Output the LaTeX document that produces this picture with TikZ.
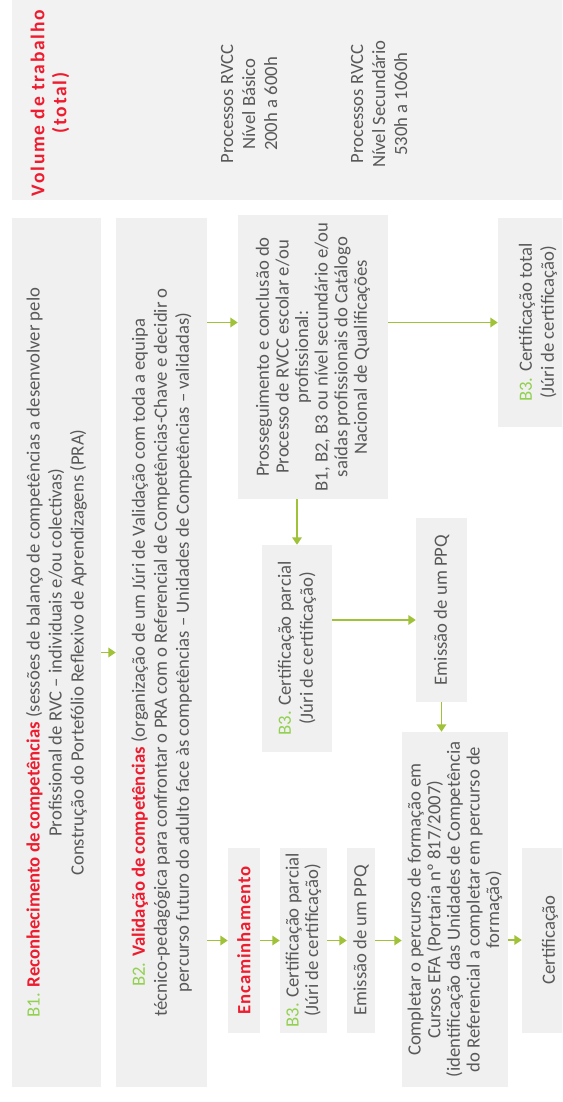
\documentclass[tikz,border=0pt]{standalone}
\usepackage{fontspec}
\setmainfont{Carlito}
\usetikzlibrary{arrows.meta}
\definecolor{boxgrey}{HTML}{F0F0F0}
\definecolor{topgrey}{HTML}{F2F2F2}
\definecolor{txt}{HTML}{595959}
\definecolor{bred}{HTML}{EE1C2E}
\definecolor{bgreen}{HTML}{92D050}
\definecolor{arrgreen}{HTML}{A0C238}
\newcommand\fs{\fontsize{18.7}{22}\selectfont}
\newcommand\fsn{\fontsize{18.7}{19.6}\selectfont}
\newcommand\Bl[1]{{\color{bgreen}#1}}
\newcommand\Rd[1]{{\color{bred}\bfseries #1}}
\tikzset{
  box/.style={fill=boxgrey, rotate=90, inner sep=0pt, align=center, text=txt, font=\fs},
  label/.style={rotate=90, inner sep=0pt, align=center, text=txt, font=\fs},
  arr/.style={draw=arrgreen, line width=1.8pt, -{Triangle[length=7.5pt,width=9.5pt]}},
}
\begin{document}
\begin{tikzpicture}[x=1pt,y=-1pt]
\useasboundingbox (0,0) rectangle (562,1102);
\clip (0,0) rectangle (562,1102);
\fill[white] (0,0) rectangle (562,1102);
% top box
\node[fill=topgrey, minimum width=566pt, minimum height=210pt, inner sep=0pt] (top) at (295,95) {};
\node[label, text=bred, font=\fontsize{19.5}{22}\selectfont\bfseries\addfontfeatures{LetterSpace=9}] (vol) at (50,103) {Volume de trabalho\\(total)};
\node[label] (bas) at (249,104) {Processos RVCC\\Nível Básico\\200h a 600h};
\node[label] (sec) at (379,104) {Processos RVCC\\Nível Secundário\\530h a 1060h};
% main boxes
\node[box, minimum width=869pt, minimum height=89pt] (b1) at (56.5,652.5)
  {\Bl{B1.} \Rd{Reconhecimento de competências} (sessões de balanço de competências a desenvolver pelo\\
   Profissional de RVC – individuais e/ou colectivas)\\
   Construção do Portefólio Reflexivo de Aprendizagens (PRA)};
\node[box, minimum width=869pt, minimum height=91pt] (b2) at (161.5,652.5)
  {\Bl{B2.} \Rd{Validação de competências} (organização de um Júri de Validação com toda a equipa\\
   técnico-pedagógica para confrontar o PRA com o Referencial de Competências-Chave e decidir o\\
   percurso futuro do adulto face às competências – Unidades de Competências – validadas)};
\node[box, font=\fsn, minimum width=284pt, minimum height=150pt] (pr) at (313,357)
  {Prosseguimento e conclusão do\\Processo de RVCC escolar e/ou\\profissional:\\
   B1, B2, B3 ou nível secundário e/ou\\saídas profissionais do Catálogo\\Nacional de Qualificações};
\node[box, minimum width=209pt, minimum height=80pt] (ct) at (538,322.5)
  {\Bl{B3.} Certificação total\\(Júri de certificação)};
\node[box, minimum width=207pt, minimum height=70pt] (cp) at (297,648.5)
  {\Bl{B3.} Certificação parcial\\(Júri de certificação)};
\node[box, minimum width=184pt, minimum height=51pt] (em) at (441.5,610)
  {Emissão de um PPQ};
\node[box, font=\fsn, minimum width=355pt, minimum height=106pt] (co) at (455,909.5)
  {Completar o percurso de formação em\\Cursos EFA (Portaria nº 817/2007)\\
   (identificação das Unidades de Competência\\do Referencial a completar em percurso de\\formação)};
\node[box, minimum width=185pt, minimum height=32pt] (en) at (244,940.5)
  {{\addfontfeatures{LetterSpace=5}\Rd{Encaminhamento}}};
\node[box, font=\fsn, minimum width=185pt, minimum height=47pt] (b3) at (303.5,940.5)
  {\Bl{B3.} Certificação parcial\\(Júri de certificação)};
\node[box, minimum width=185pt, minimum height=28pt] (eb) at (361,940.5)
  {Emissão de um PPQ};
\node[box, minimum width=185pt, minimum height=56pt] (ce) at (550,940)
  {Certificação};
% connectors
\coordinate (r620) at (0,620);
\draw[arr] (b1.south) -- (b2.north);
\draw[arr] (b2.south |- ct.center) -- (pr.north |- ct.center);
\draw[arr] (pr.south |- ct.center) -- (ct.north);
\draw[arr] (pr.west -| cp.center) -- (cp.east);
\draw[arr] (cp.south |- r620) -- (em.north |- r620);
\draw[arr] (em.west) -- (em.west |- co.east);
\draw[arr] (b2.south |- en.center) -- (en.north);
\draw[arr] (en.south) -- (b3.north);
\draw[arr] (b3.south) -- (eb.north);
\draw[arr] (eb.south) -- (co.north |- eb.center);
\draw[arr] (co.south |- ce.center) -- (ce.north);
\end{tikzpicture}
\end{document}
